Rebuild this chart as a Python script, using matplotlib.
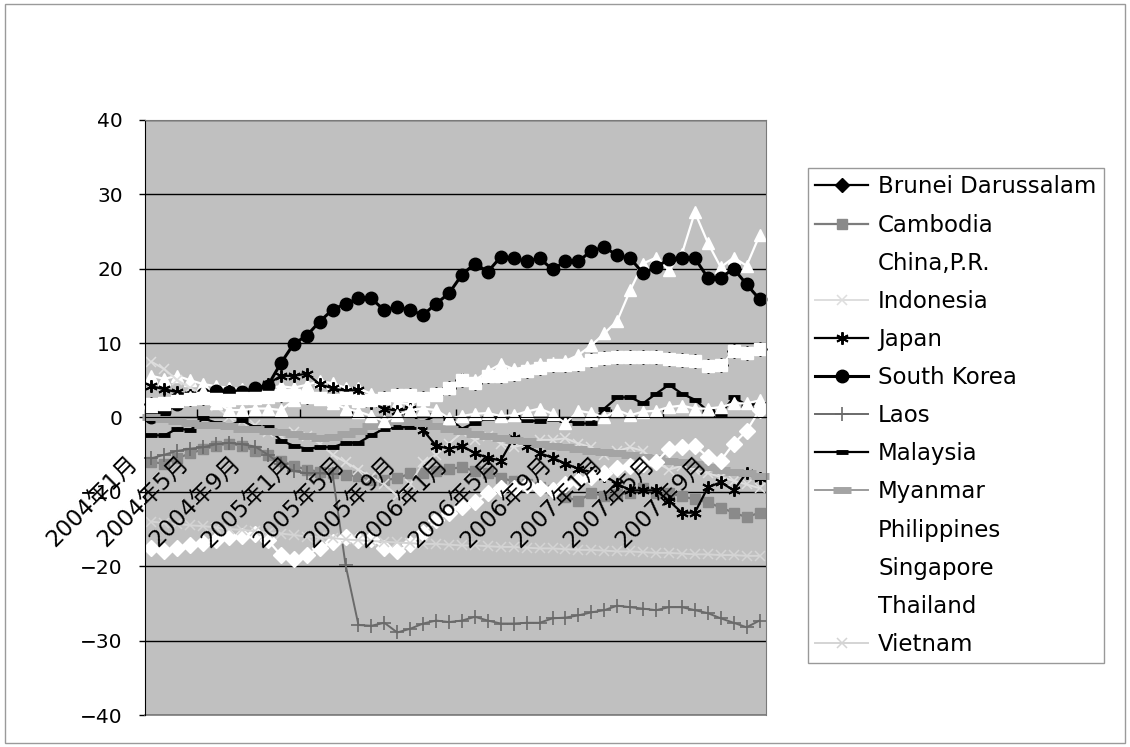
import matplotlib
matplotlib.use("Agg")
import matplotlib.pyplot as plt
import matplotlib.transforms as mtransforms
from matplotlib.patches import Rectangle

plt.rcParams['font.family'] = ['DejaVu Sans', 'Noto Sans CJK JP']
plt.rcParams['axes.unicode_minus'] = True

# 2004年1月 .. 2007年12月
months = [f"{y}年{m}月" for y in (2004, 2005, 2006, 2007) for m in range(1, 13)]

brunei = [1.8, 2.0, 2.2, 2.5, 2.6, 2.5, 2.4, 2.6, 2.6, 2.8, 3.0, 3.0, 2.8, 2.6, 2.4, 2.6,
          2.2, 2.4, 2.6, 3.0, 3.0, 2.6, 3.2, 4.0, 5.0, 4.7, 5.6, 5.6, 5.9, 6.3, 6.7, 7.0,
          7.0, 7.2, 7.7, 8.0, 8.2, 8.1, 8.2, 8.2, 7.8, 7.7, 7.6, 6.9, 7.0, 9.0, 8.7, 9.2]
cambodia = [-6.0, -6.2, -5.5, -4.8, -4.3, -3.8, -3.5, -3.8, -4.5, -5.0, -5.8, -6.5, -7.0, -7.3, -7.5, -7.7,
            -7.9, -8.4, -8.4, -8.2, -7.5, -7.5, -7.2, -6.9, -6.7, -7.2, -7.5, -8.1, -8.6, -8.9, -9.4, -9.8,
            -10.7, -11.2, -10.2, -10.5, -10.3, -10.2, -9.5, -10.1, -10.2, -10.6, -11.0, -11.4, -12.1, -12.8, -13.4, -12.8]
china = [5.6, 5.2, 5.6, 5.0, 4.5, 4.2, 4.0, 3.8, 3.6, 4.0, 4.2, 4.0, 4.4, 4.9, 4.6, 4.0,
         3.9, 3.2, 2.6, 2.0, 1.8, 2.5, 3.0, 4.0, 5.2, 5.0, 6.2, 7.2, 6.5, 6.8, 7.2, 7.3,
         7.6, 8.4, 9.7, 11.3, 13.0, 17.1, 20.7, 21.5, 19.8, 22.0, 27.6, 23.5, 20.2, 21.5, 20.4, 24.5]
indonesia = [7.5, 6.5, 5.0, 4.0, 3.0, 1.5, 0.0, -0.5, -1.0, -2.0, -2.5, -2.0, -2.5, -3.5, -5.0, -6.0,
             -7.0, -8.0, -9.0, -10.5, -9.0, -6.0, -5.0, -3.5, -2.0, -3.0, -2.5, -3.5, -4.0, -3.5, -3.0, -3.0,
             -2.8, -3.5, -4.0, -5.0, -4.5, -4.0, -4.5, -6.0, -7.0, -6.5, -7.0, -7.5, -8.0, -8.5, -9.0, -9.5]
japan = [4.2, 3.8, 3.4, 3.0, 3.2, 3.6, 3.6, 3.3, 3.6, 4.5, 5.6, 5.6, 5.9, 4.5, 3.9, 3.6,
         3.7, 2.0, 1.2, 0.9, 1.2, -1.7, -3.8, -4.2, -3.8, -4.8, -5.4, -5.8, -2.7, -3.8, -4.8, -5.4,
         -6.2, -6.9, -7.4, -7.8, -8.9, -9.8, -9.8, -9.8, -11.2, -12.8, -12.8, -9.4, -8.7, -9.8, -7.4, -8.2]
south_korea = [0.0, 0.7, 1.8, 2.8, 3.2, 3.6, 3.4, 3.4, 4.0, 4.3, 7.3, 9.9, 11.0, 12.9, 14.5, 15.3,
               16.0, 16.0, 14.4, 14.9, 14.4, 13.8, 15.3, 16.7, 19.2, 20.7, 19.6, 21.6, 21.4, 21.0, 21.4, 19.9,
               21.0, 21.0, 22.4, 22.9, 21.8, 21.4, 19.4, 20.2, 21.3, 21.4, 21.4, 18.8, 18.8, 20.0, 17.9, 15.9]
laos = [-5.5, -5.0, -4.5, -4.2, -4.0, -3.6, -3.4, -3.6, -3.9, -5.0, -6.3, -7.2, -7.5, -7.5, -7.6, -19.8,
        -27.9, -28.0, -27.6, -28.9, -28.4, -27.7, -27.3, -27.5, -27.3, -26.8, -27.3, -27.7, -27.7, -27.6, -27.6, -27.0,
        -26.9, -26.6, -26.2, -25.9, -25.3, -25.5, -25.7, -25.9, -25.5, -25.5, -25.9, -26.3, -27.0, -27.6, -28.2, -27.3]
malaysia = [-2.4, -2.4, -1.5, -1.7, -0.1, -0.7, -1.1, -0.4, -1.3, -1.3, -3.1, -3.8, -4.2, -4.0, -4.0, -3.4,
            -3.4, -2.4, -1.5, -1.3, -1.3, -0.6, 0.3, -0.1, -1.5, -0.7, -0.1, 0.0, 0.0, -0.4, -0.5, -0.2,
            -0.4, -0.8, -0.8, 1.2, 2.7, 2.7, 1.9, 3.2, 4.4, 3.2, 2.4, 0.9, 0.5, 2.7, 1.7, 1.8]
myanmar = [0.0, -0.2, -0.5, -0.8, -1.0, -1.0, -1.2, -1.5, -1.6, -1.8, -2.0, -2.2, -2.5, -2.7, -2.6, -2.2,
           -1.8, -1.2, -0.8, -0.5, -0.6, -0.8, -1.2, -1.5, -1.8, -2.2, -2.5, -2.8, -3.0, -3.2, -3.5, -3.8,
           -4.0, -4.3, -4.5, -4.6, -4.8, -5.0, -5.3, -5.5, -5.8, -6.0, -6.3, -6.6, -7.0, -7.3, -7.5, -7.8]
philippines = [-17.5, -17.9, -17.5, -17.2, -16.9, -16.5, -16.1, -15.9, -15.6, -16.5, -18.5, -19.0, -18.5, -17.5, -16.8, -16.1,
               -16.5, -16.3, -17.5, -18.0, -17.0, -15.5, -13.8, -12.8, -12.0, -11.4, -10.2, -9.5, -9.5, -9.1, -9.5, -9.8,
               -9.0, -8.6, -8.0, -7.5, -6.8, -6.5, -6.2, -6.0, -4.2, -4.0, -3.8, -5.3, -5.8, -3.5, -1.8, 1.0]
singapore = brunei
thailand = [1.5, 1.8, 2.5, 2.8, 3.5, 2.0, 1.0, 1.0, 1.2, 1.2, 1.0, 2.3, 3.3, 2.5, 2.0, 1.2,
            0.8, 0.2, -0.5, 0.3, 1.0, 1.2, 1.0, -0.1, 0.2, 0.5, 0.6, 0.2, 0.3, 0.8, 1.2, 0.5,
            -0.8, 0.9, 0.6, 0.0, 1.0, 0.3, 0.8, 0.9, 1.4, 1.6, 1.2, 1.2, 1.4, 1.9, 1.9, 2.3]
vietnam = [-14.0, -14.2, -14.3, -14.5, -14.6, -14.8, -15.0, -15.1, -15.3, -15.5, -15.6, -15.8, -16.0, -16.1, -16.2, -16.4,
           -16.5, -16.6, -16.7, -16.8, -16.9, -17.0, -17.0, -17.1, -17.2, -17.2, -17.3, -17.4, -17.4, -17.5, -17.6, -17.6,
           -17.7, -17.8, -17.8, -17.9, -18.0, -18.0, -18.1, -18.2, -18.2, -18.3, -18.4, -18.4, -18.5, -18.5, -18.6, -18.6]

series = [
    ("Brunei Darussalam", brunei, dict(color="black", lw=1.6, marker="D", ms=7.5, mfc="black", mec="black")),
    ("Cambodia", cambodia, dict(color="#7c7c7c", lw=1.6, marker="s", ms=7, mfc="#8a8a8a", mec="#8a8a8a")),
    ("China,P.R.", china, dict(color="white", lw=1.6, marker="^", ms=9, mfc="white", mec="white")),
    ("Indonesia", indonesia, dict(color="#dedede", lw=1.4, marker="x", ms=7, mec="#dedede", mew=1.1)),
    ("Japan", japan, dict(color="black", lw=1.6, marker=(6, 2, 0), ms=9, mec="black", mew=1.4)),
    ("South Korea", south_korea, dict(color="black", lw=2.2, marker="o", ms=9, mfc="black", mec="black")),
    ("Laos", laos, dict(color="#6a6a6a", lw=1.4, marker="+", ms=10, mec="#6a6a6a", mew=1.2)),
    ("Malaysia", malaysia, dict(color="black", lw=1.6, marker="_", ms=8, mec="black", mew=3.5)),
    ("Myanmar", myanmar, dict(color="#9c9c9c", lw=1.4, marker="_", ms=13, mec="#a4a4a4", mew=5)),
    ("Philippines", philippines, dict(color="white", lw=1.6, marker="D", ms=8, mfc="white", mec="white")),
    ("Singapore", singapore, dict(color="white", lw=1.6, marker="s", ms=8.5, mfc="white", mec="white")),
    ("Thailand", thailand, dict(color="white", lw=1.6, marker="^", ms=9, mfc="white", mec="white")),
    ("Vietnam", vietnam, dict(color="#d4d4d4", lw=1.4, marker="x", ms=7, mec="#d4d4d4", mew=1.1)),
]

fig = plt.figure(figsize=(11.3, 7.47), dpi=100)
fig.patches.append(Rectangle((0.004, 0.006), 0.992, 0.988, transform=fig.transFigure,
                             fill=False, edgecolor="#9a9a9a", lw=1))
ax = fig.add_axes([0.1283, 0.0428, 0.5496, 0.7966])
ax.set_facecolor("#c0c0c0")

x = list(range(len(months)))
for name, vals, style in series:
    ax.plot(x, vals, label=name, clip_on=False, **style)

ax.set_xlim(-0.5, len(months) - 0.5)
ax.set_ylim(-40, 40)
ax.set_yticks(range(-40, 41, 10))
ax.yaxis.grid(True, color="black", lw=1)
ax.set_axisbelow(True)
ax.tick_params(axis="y", direction="out", length=4, width=1, pad=12, labelsize=14.5)

# category axis sits on the zero line, tick marks between every 4th category
ax.spines["bottom"].set_position(("data", 0))
ax.spines["bottom"].set_color("black")
ax.set_xticks([i - 0.5 for i in range(0, len(months), 4)])
ax.set_xticklabels([])
ax.tick_params(axis="x", direction="in", length=6, width=1)
for side in ("top", "right"):
    ax.spines[side].set_color("#7a7a7a")
ax.spines["left"].set_color("black")
# outline of the plot area along the bottom
ax.plot([0, 1], [0, 0], transform=ax.transAxes, color="#7a7a7a", lw=1.2, clip_on=False)

offset = mtransforms.ScaledTranslation(-26 / 100, -34 / 100, fig.dpi_scale_trans)
for i in range(0, len(months), 4):
    ax.text(i, 0, months[i], rotation=45, rotation_mode="anchor", ha="right", va="top",
            fontsize=16.5, transform=ax.transData + offset, zorder=5)

leg = fig.legend(loc="upper left", bbox_to_anchor=(0.715, 0.775), frameon=True, fancybox=False,
                 edgecolor="#808080", fontsize=16.5, handlelength=2.3, handletextpad=0.44,
                 labelspacing=0.66, borderpad=0.32, borderaxespad=0)
leg.get_frame().set_linewidth(1)

fig.savefig("out.png", dpi=100)
